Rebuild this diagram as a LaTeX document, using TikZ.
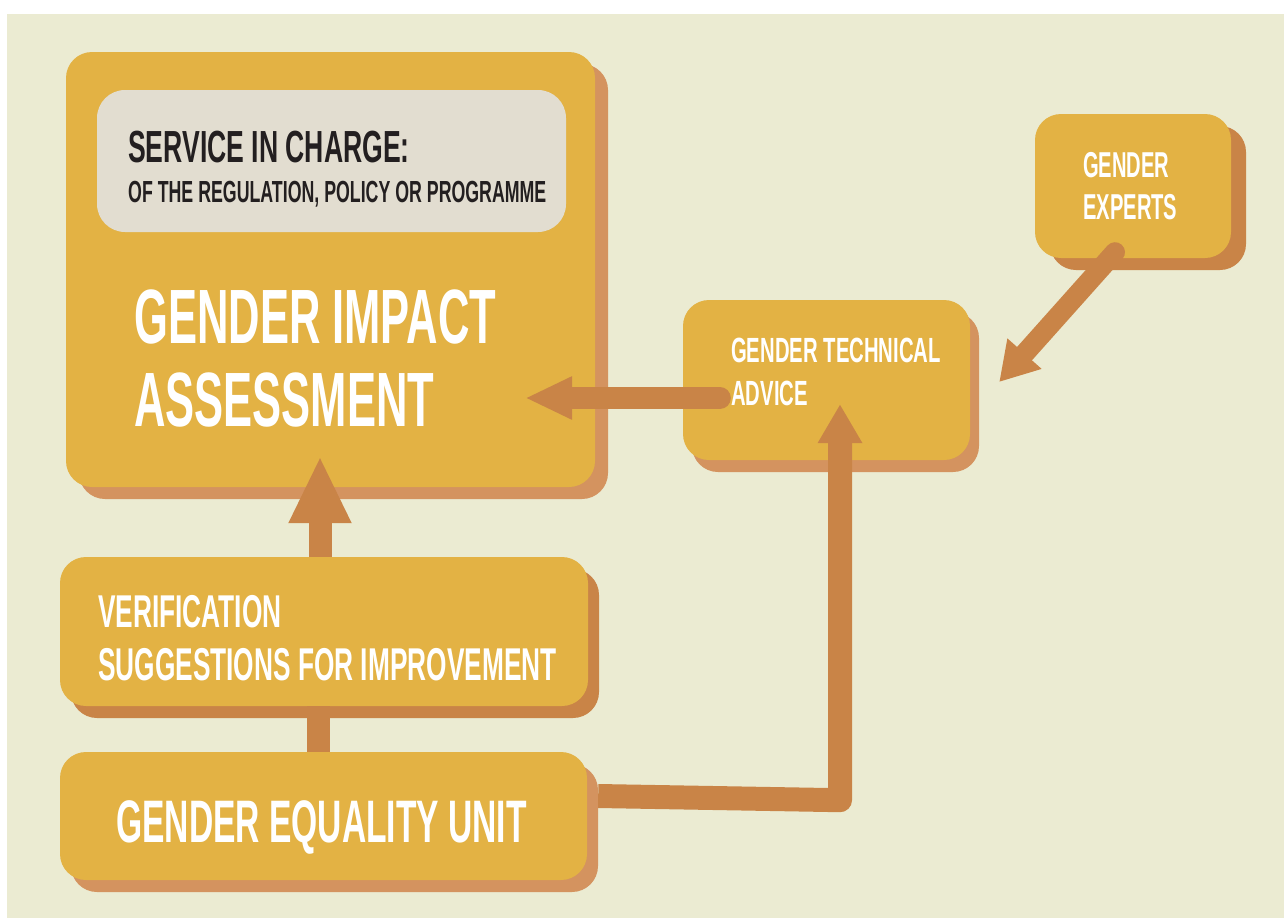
\documentclass[tikz,border=0pt]{standalone}
\usepackage{fontspec}
\usepackage{graphicx}
\newfontfamily\cond[FakeStretch=0.56]{Liberation Sans}
\usetikzlibrary{arrows.meta,shadows,calc}
\definecolor{bgbeige}{HTML}{EBEBD2}
\definecolor{boxyellow}{HTML}{E3B244}
\definecolor{shlight}{HTML}{D4935F}
\definecolor{shdark}{HTML}{C98447}
\definecolor{innergray}{HTML}{E2DDD0}
\definecolor{darktext}{HTML}{231F20}
\tikzset{
  box/.style={fill=boxyellow, draw=none, rounded corners=26pt, inner sep=0pt},
  lightsh/.style={drop shadow={shadow xshift=#1, shadow yshift=-12pt, fill=shlight, opacity=1}},
  darksh/.style={drop shadow={shadow xshift=#1, shadow yshift=-12pt, fill=shdark, opacity=1}},
  conn/.style={draw=shdark, line width=#1},
  txt/.style={inner sep=0pt, anchor=base west, text=white, font=\cond\bfseries},
}
\begin{document}
\begin{tikzpicture}[x=1pt,y=-1pt]
\useasboundingbox (0,0) rectangle (1284,918);
\fill[white] (0,0) rectangle (1284,918);
\fill[bgbeige] (7,14) rectangle (1284,918);
% boxes
\node[box, lightsh=13pt, minimum width=529, minimum height=435] (gia) at (330.5,269.5) {};
\node[fill=innergray, rounded corners=28pt, inner sep=0pt, minimum width=469, minimum height=142] (svc) at (331.5,161) {};
\node[box, lightsh=9pt, minimum width=287, minimum height=160] (tech) at (826.5,380) {};
\node[box, darksh=15pt, minimum width=196, minimum height=144] (experts) at (1133,186) {};
\node[box, darksh=11pt, minimum width=528, minimum height=149] (verif) at (324,631.5) {};
\node[box, lightsh=11pt, minimum width=527, minimum height=128] (geu) at (323.5,816) {};
% connectors
\draw[conn=22pt, line cap=round, -{Triangle[length=47pt,width=40pt]}]
  ($(tech.west)+(37,18)$) -- ($(gia.east)+(-70,128.5)$);
\draw[conn=23pt, -{Triangle[length=67pt,width=58pt]}]
  ($(verif.north)+(-4,0)$) -- ($(gia.south)+(-10.5,-31)$);
\draw[conn=23pt] ($(geu.north)+(-5,0)$) -- ($(verif.south)+(-5.5,0)$);
\coordinate (elb) at ($(tech.south)+(13.5,340)$);
\coordinate (techin) at ($(tech.south)+(13.5,-56)$);
\draw[conn=24pt, line join=round, -{Triangle[length=39pt,width=42pt]}]
  ($(geu.east)+(11,-20)$) -- (elb) -- (techin);
\draw[conn=20pt, line cap=round, -{Triangle[length=38pt,width=43pt]}]
  ($(experts.south)+(-18,-6)$) -- ($(tech.east)+(29,2)$);
% texts
\node[txt, text=darktext, font=\cond\bfseries\fontsize{45}{45}\selectfont] (t1) at (128,162) {\scalebox{1.055}[1]{SERVICE IN CHARGE:}};
\node[txt, text=darktext, font=\cond\bfseries\fontsize{30.5}{30.5}\selectfont] (t2) at (128,202) {\scalebox{1.04}[1]{OF THE REGULATION, POLICY OR PROGRAMME}};
\node[txt, font=\cond\bfseries\fontsize{77}{77}\selectfont] (t3) at (134,343) {\scalebox{1.01}[1]{GENDER IMPACT}};
\node[txt, font=\cond\bfseries\fontsize{77}{77}\selectfont] (t4) at (134,426) {\scalebox{1.01}[1]{ASSESSMENT}};
\node[txt, font=\cond\bfseries\fontsize{35}{35}\selectfont] (t5) at (731,362) {\scalebox{1.035}[1]{GENDER TECHNICAL}};
\node[txt, font=\cond\bfseries\fontsize{35}{35}\selectfont] (t6) at (731,405) {\scalebox{1.035}[1]{ADVICE}};
\node[txt, font=\cond\bfseries\fontsize{36}{36}\selectfont] (t7) at (1083,177) {GENDER};
\node[txt, font=\cond\bfseries\fontsize{36}{36}\selectfont] (t8) at (1083,219) {EXPERTS};
\node[txt, font=\cond\bfseries\fontsize{46}{46}\selectfont] (t9) at (98,627) {\scalebox{1.02}[1]{VERIFICATION}};
\node[txt, font=\cond\bfseries\fontsize{46}{46}\selectfont] (t10) at (98,680) {\scalebox{1.02}[1]{SUGGESTIONS FOR IMPROVEMENT}};
\node[txt, font=\cond\bfseries\fontsize{60}{60}\selectfont] (t11) at (116,842) {GENDER EQUALITY UNIT};
\end{tikzpicture}
\end{document}
